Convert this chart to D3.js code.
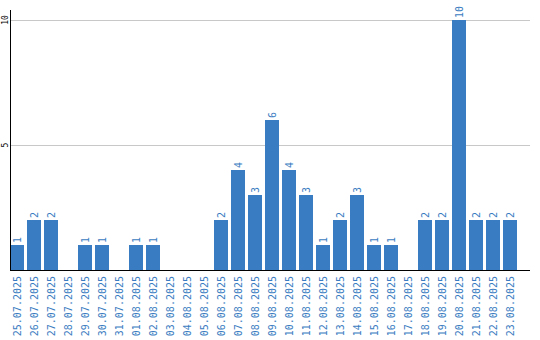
<!DOCTYPE html>
<html><head><meta charset="utf-8">
<script src="https://cdn.jsdelivr.net/npm/d3@7"></script>
<style>body{margin:0;background:#fff}svg{display:block}</style>
</head><body>
<svg id="c" width="540" height="340"></svg>
<script>
const categories = ["25.07.2025","26.07.2025","27.07.2025","28.07.2025","29.07.2025","30.07.2025","31.07.2025","01.08.2025","02.08.2025","03.08.2025","04.08.2025","05.08.2025","06.08.2025","07.08.2025","08.08.2025","09.08.2025","10.08.2025","11.08.2025","12.08.2025","13.08.2025","14.08.2025","15.08.2025","16.08.2025","17.08.2025","18.08.2025","19.08.2025","20.08.2025","21.08.2025","22.08.2025","23.08.2025"];
const values = [1,2,2,0,1,1,0,1,1,0,0,0,2,4,3,6,4,3,1,2,3,1,1,0,2,2,10,2,2,2];
const yTicks = [5,10];

const svg = d3.select("#c");
const blue = "#3a7cc1";
const font = "'DejaVu Sans Mono', monospace";
const x = d3.scaleBand().domain(categories).range([10,517]).paddingInner(3/17).paddingOuter(0);
const y = d3.scaleLinear().domain([0,10]).range([270,20]);

// gridlines
svg.append("g").selectAll("line").data(yTicks).join("line")
  .attr("x1",11).attr("x2",530).attr("y1",d=>Math.round(y(d))+0.5).attr("y2",d=>Math.round(y(d))+0.5)
  .attr("stroke","#c8c8c8").attr("stroke-width",1);

// bars
svg.append("g").selectAll("rect").data(values).join("rect")
  .attr("x",(d,i)=>x(categories[i])).attr("width",x.bandwidth())
  .attr("y",d=>y(d)).attr("height",d=>y(0)-y(d)).attr("fill",blue);

// value labels
svg.append("g").selectAll("text").data(values.map((v,i)=>({v,c:categories[i]})).filter(d=>d.v>0)).join("text")
  .attr("transform",d=>`translate(${x(d.c)+x.bandwidth()/2+3.5},${y(d.v)-2}) rotate(-90)`)
  .attr("text-anchor","start").attr("font-family",font).attr("font-size",10).attr("fill",blue)
  .text(d=>d.v);

// y axis
const ya = d3.axisLeft(y).tickValues(yTicks).tickSize(0).tickFormat(d3.format("d"));
const yg = svg.append("g").attr("transform","translate(10.5,0)").call(ya);
yg.select(".domain").remove();
yg.selectAll("text").attr("font-family",font).attr("font-size",8).attr("fill","#000")
  .attr("x",null).attr("dy",null).attr("text-anchor","middle")
  .attr("transform",d=>`translate(-3,${y(d)}) rotate(-90)`).attr("y",0);
yg.selectAll(".tick").attr("transform",null);
svg.append("line").attr("x1",10.5).attr("x2",10.5).attr("y1",10).attr("y2",271).attr("stroke","#000");

// x axis
const xa = d3.axisBottom(x).tickSize(0);
const xg = svg.append("g").attr("transform","translate(0,270)").call(xa);
xg.select(".domain").remove();
xg.selectAll("text").attr("font-family",font).attr("font-size",10).attr("fill",blue)
  .attr("y",0).attr("dy",null).attr("text-anchor","end")
  .attr("transform","translate(3.5,6) rotate(-90)");
svg.append("line").attr("x1",10).attr("x2",530).attr("y1",270.5).attr("y2",270.5).attr("stroke","#000");
</script>
</body></html>
